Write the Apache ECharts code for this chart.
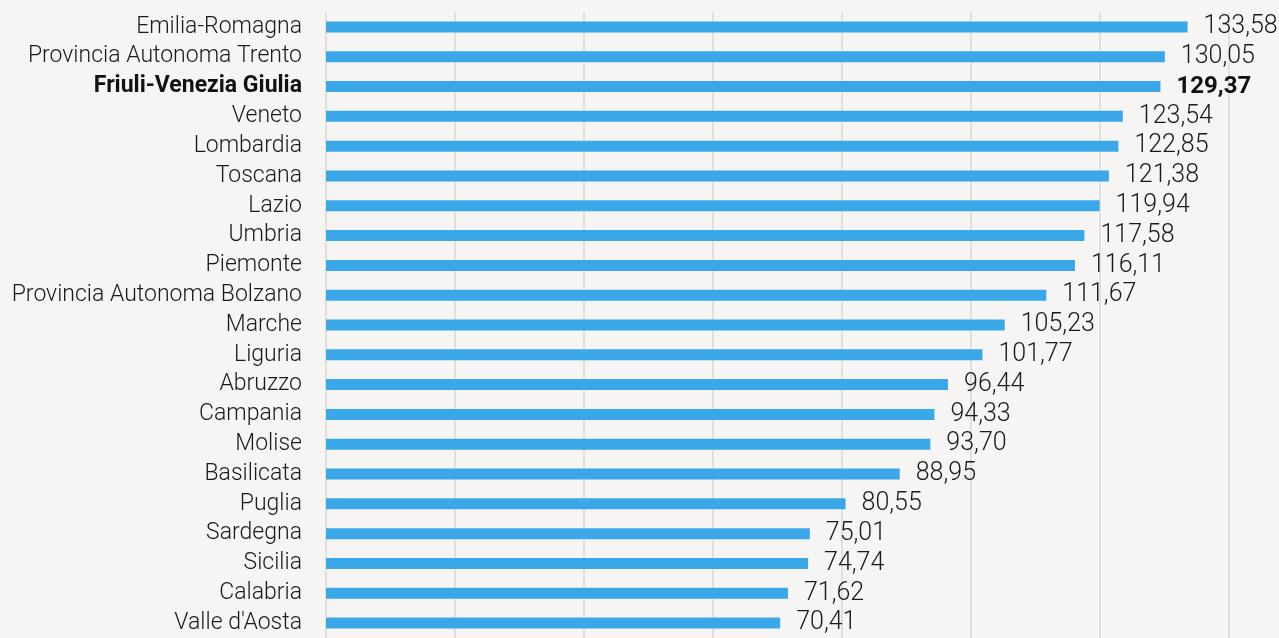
<!DOCTYPE html>
<html><head><meta charset="utf-8">
<script src="https://cdn.jsdelivr.net/npm/echarts@6/dist/echarts.min.js"></script>
<style>html,body{margin:0;padding:0;background:#f6f5f3;}#c{width:1279px;height:638px;}</style>
</head><body><div id="c"></div>
<script>
const categories = ["Emilia-Romagna","Provincia Autonoma Trento","Friuli-Venezia Giulia","Veneto","Lombardia","Toscana","Lazio","Umbria","Piemonte","Provincia Autonoma Bolzano","Marche","Liguria","Abruzzo","Campania","Molise","Basilicata","Puglia","Sardegna","Sicilia","Calabria","Valle d'Aosta"];
const values = [133.58,130.05,129.37,123.54,122.85,121.38,119.94,117.58,116.11,111.67,105.23,101.77,96.44,94.33,93.70,88.95,80.55,75.01,74.74,71.62,70.41];
const highlight = "Friuli-Venezia Giulia";
const fmt = v => v.toFixed(2).replace('.', ',');
const chart = echarts.init(document.getElementById('c'));
const FONT = 'Roboto, "DejaVu Sans", sans-serif';
chart.setOption({
  backgroundColor: '#f6f5f3',
  animation: false,
  grid: {left: 326, right: 50, top: 12, bottom: 0, containLabel: false},
  xAxis: {type: 'value', min: 0, max: 140, interval: 20,
    axisLabel: {show: false}, axisLine: {show: false}, axisTick: {show: false},
    splitLine: {lineStyle: {color: '#d9d8d6', width: 1.5}}},
  yAxis: {type: 'category', data: categories, inverse: true,
    axisLine: {show: false}, axisTick: {show: false},
    axisLabel: {interval: 0, margin: 24, fontFamily: FONT, fontSize: 23, fontWeight: 300, color: '#1a1a1a',
      formatter: v => v === highlight ? '{b|' + v + '}' : v,
      rich: {b: {fontFamily: FONT, fontSize: 23, fontWeight: 'bold', color: '#111'}}}},
  series: [{type: 'bar', barWidth: 11,
    data: values.map((v, i) => ({value: v})),
    itemStyle: {color: '#3aa8e8'},
    label: {show: true, position: 'right', distance: 16, fontFamily: FONT, fontSize: 25, fontWeight: 300, color: '#1a1a1a',
      formatter: p => categories[p.dataIndex] === highlight ? '{b|' + fmt(p.value) + '}' : fmt(p.value),
      rich: {b: {fontFamily: FONT, fontSize: 24, fontWeight: 'bold', color: '#111'}}}
  }]
});
</script></body></html>
